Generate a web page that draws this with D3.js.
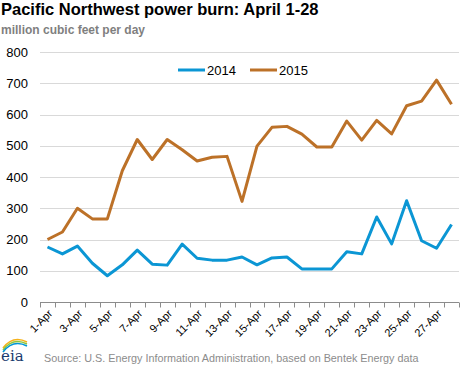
<!DOCTYPE html>
<html>
<head>
<meta charset="utf-8">
<script src="https://cdn.jsdelivr.net/npm/d3@7"></script>
<style>
body { margin: 0; background: #fff; }
svg { display: block; font-family: "Liberation Sans", Arial, sans-serif; }
</style>
</head>
<body>
<script>
// days of April
var days = d3.range(1, 29).map(function(d) { return d + '-Apr'; });
var series2014 = [176, 154, 179, 124, 84, 119, 166, 121, 118, 185, 140, 134, 134, 144,
	119, 141, 144, 106, 106, 106, 161, 154, 272, 186, 324, 196, 172, 248];
var series2015 = [200, 224, 300, 266, 266, 420, 520, 456, 520, 487, 451, 463, 466, 322,
	499, 559, 562, 537, 496, 496, 579, 518, 581, 538, 628, 643, 710, 633];
var yTicks = [0, 100, 200, 300, 400, 500, 600, 700, 800];
var seriesNames = ['2014', '2015'];
var colors = ['#0b96d4', '#bc7128'];

var W = 468, H = 366;
var margin = { top: 52, right: 9, bottom: 64, left: 40 };

var svg = d3.select('body').append('svg')
	.attr('width', W)
	.attr('height', H);

svg.append('text')
	.attr('x', 1).attr('y', 15)
	.style('font-size', '16.5px').style('font-weight', 'bold').attr('fill', '#000')
	.text('Pacific Northwest power burn: April 1-28');
svg.append('text')
	.attr('x', 1).attr('y', 34)
	.style('font-size', '12px').style('font-weight', 'bold').attr('fill', '#7f7f7f')
	.text('million cubic feet per day');

var x = d3.scaleBand()
	.domain(days)
	.range([margin.left, W - margin.right]);
var y = d3.scaleLinear()
	.domain([0, 800])
	.range([H - margin.bottom, margin.top]);

// gridlines
svg.append('g').selectAll('line')
	.data(yTicks.slice(1))
	.enter().append('line')
	.attr('x1', margin.left).attr('x2', W - margin.right)
	.attr('y1', function(d) { return Math.round(y(d)) + 0.5; })
	.attr('y2', function(d) { return Math.round(y(d)) + 0.5; })
	.attr('stroke', '#d9d9d9');

// y labels
svg.append('g').selectAll('text')
	.data(yTicks)
	.enter().append('text')
	.attr('x', 28)
	.attr('y', function(d) { return y(d) + 4.5; })
	.attr('text-anchor', 'end')
	.style('font-size', '13px').attr('fill', '#000')
	.text(function(d) { return d; });

// x axis with ticks at band boundaries
var xAxis = svg.append('g');
var y0 = Math.round(y(0)) + 0.5;
xAxis.append('line')
	.attr('x1', margin.left).attr('x2', W - margin.right)
	.attr('y1', y0).attr('y2', y0)
	.attr('stroke', '#8c8c8c');
var bounds = days.map(function(d) { return x(d); }).concat([W - margin.right]);
xAxis.selectAll('.tk')
	.data(bounds)
	.enter().append('line')
	.attr('x1', function(d) { return Math.round(d) + 0.5; })
	.attr('x2', function(d) { return Math.round(d) + 0.5; })
	.attr('y1', y0).attr('y2', y0 + 5)
	.attr('stroke', '#8c8c8c');
xAxis.selectAll('.lbl')
	.data(days.filter(function(d, i) { return i % 2 == 0; }))
	.enter().append('text')
	.attr('transform', function(d) {
		return 'translate(' + (x(d) + x.bandwidth() / 2 + 3) + ',' + (y0 + 9) + ') rotate(-45)';
	})
	.attr('text-anchor', 'end')
	.attr('dy', '0.35em')
	.style('font-size', '11px').attr('fill', '#000')
	.text(function(d) { return d; });

// lines
var line = d3.line()
	.x(function(d, i) { return x(days[i]) + x.bandwidth() / 2; })
	.y(function(d) { return y(d); });
[series2014, series2015].forEach(function(s, i) {
	svg.append('path')
		.datum(s)
		.attr('d', line)
		.attr('fill', 'none')
		.attr('stroke', colors[i])
		.attr('stroke-width', 3)
		.attr('stroke-linejoin', 'round');
});

// legend
var legX = [178, 250];
seriesNames.forEach(function(n, i) {
	svg.append('line')
		.attr('x1', legX[i]).attr('x2', legX[i] + 27)
		.attr('y1', 70).attr('y2', 70)
		.attr('stroke', colors[i]).attr('stroke-width', 3);
	svg.append('text')
		.attr('x', legX[i] + 29).attr('y', 75)
		.style('font-size', '13px').attr('fill', '#000')
		.text(n);
});

// source + logo
svg.append('text')
	.attr('x', 44).attr('y', 362)
	.style('font-size', '10.8px').attr('fill', '#8c8c8c')
	.text('Source:  U.S. Energy Information Administration, based on Bentek Energy data');
var logo = svg.append('g');
var arcs = [['#f5b21b', 0], ['#8dc63f', 2], ['#0096d6', 4]];
arcs.forEach(function(a) {
	logo.append('path')
		.attr('d', 'M3,' + (348 + a[1]) + ' Q13,' + (335 + a[1]) + ' 27,' + (342 + a[1]))
		.attr('fill', 'none').attr('stroke', a[0]).attr('stroke-width', 1.6);
});
logo.append('text')
	.attr('x', 1).attr('y', 361)
	.style('font-family', '"DejaVu Serif", "Liberation Serif", serif')
	.style('font-size', '15px').attr('fill', '#1a3a6e')
	.text('eia');
</script>
</body>
</html>
